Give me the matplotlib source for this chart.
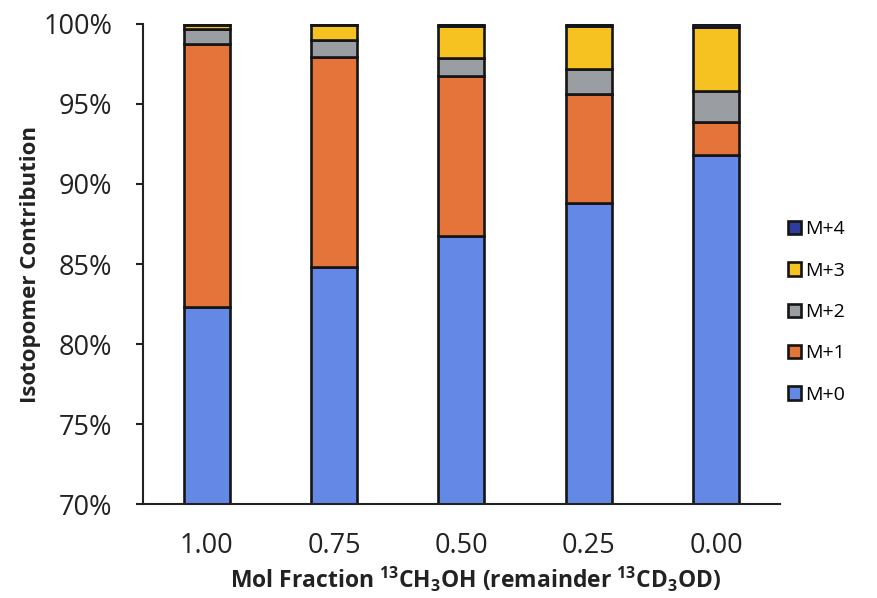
import matplotlib
matplotlib.use("Agg")
import matplotlib.pyplot as plt
import numpy as np

plt.rcParams['font.family'] = ['Open Sans', 'DejaVu Sans']
plt.rcParams['mathtext.fontset'] = 'custom'
plt.rcParams['mathtext.rm'] = 'Open Sans:bold'
plt.rcParams['mathtext.default'] = 'rm'

categories = ["1.00", "0.75", "0.50", "0.25", "0.00"]
series_names = ["M+0", "M+1", "M+2", "M+3", "M+4"]
m0 = [82.30, 84.83, 86.75, 88.80, 91.80]
m1 = [16.45, 13.12, 10.00, 6.85, 2.05]
m2 = [0.95, 1.05, 1.15, 1.55, 1.95]
m3 = [0.25, 0.94, 1.97, 2.70, 4.00]
m4 = [0.05, 0.06, 0.13, 0.10, 0.20]
y_ticks = [70, 75, 80, 85, 90, 95, 100]

colors = ["#6388E6", "#E5743A", "#9A9DA2", "#F6C222", "#2E3C9C"]

fig = plt.figure(figsize=(8.78, 5.98), dpi=100)
ax = fig.add_axes([0.163, 0.157, 0.725, 0.803])

x = np.arange(len(categories))
bottom = np.zeros(len(categories))
handles = []
for name, vals, col in zip(series_names, [m0, m1, m2, m3, m4], colors):
    vals = np.array(vals)
    h = ax.bar(x, vals, 0.36, bottom=bottom, color=col, edgecolor="#151515",
               linewidth=1.9, label=name)
    handles.append(h)
    bottom += vals

ax.set_ylim(70, 100)
ax.set_xlim(-0.5, len(categories) - 0.5)
ax.set_yticks(y_ticks)
ax.set_yticklabels([f"{t}%" for t in y_ticks])
ax.set_xticks(x)
ax.set_xticklabels(categories)

for s in ["top", "right"]:
    ax.spines[s].set_visible(False)
for s in ["left", "bottom"]:
    ax.spines[s].set_linewidth(1.5)
    ax.spines[s].set_color("#222222")

ax.tick_params(axis="y", direction="out", length=5, width=1.5, labelsize=19.5,
               colors="#222222", pad=17)
ax.tick_params(axis="x", length=0, labelsize=19.5, colors="#222222", pad=20)

ax.set_ylabel("Isotopomer Contribution", fontsize=16, fontweight="bold",
              color="#222222", labelpad=2)
ax.set_xlabel(r"Mol Fraction $^{13}$CH$_3$OH (remainder $^{13}$CD$_3$OD)",
              fontsize=16.5, fontweight="bold", color="#222222")
ax.xaxis.set_label_coords(0.522, -0.127)

leg = fig.legend(handles[::-1], series_names[::-1], loc="center left",
                 bbox_to_anchor=(0.877, 0.478), frameon=False, fontsize=14,
                 handlelength=0.7, handleheight=0.7, handletextpad=0.2,
                 labelspacing=1.2)

fig.savefig("out.png", dpi=100)
